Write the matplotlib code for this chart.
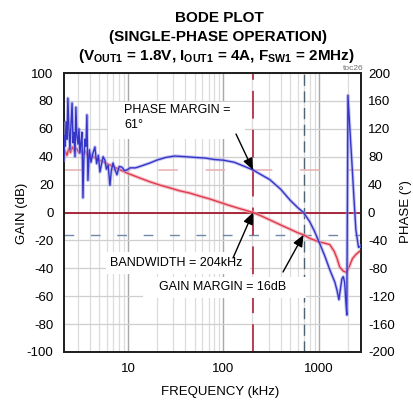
import matplotlib
matplotlib.use("Agg")
import matplotlib.pyplot as plt
from matplotlib.ticker import FixedLocator, NullFormatter, LogLocator
from matplotlib.patches import Rectangle
import numpy as np

# ---------------- data ----------------
gain_freq_khz = [2.14, 2.2, 2.3, 2.4, 2.5, 2.6, 2.75, 2.9, 3.05, 3.2, 3.4, 3.6, 3.8, 4.0,
                 4.3, 4.6, 5.0, 5.5, 6.0, 6.5, 7.0, 8.0, 9.0, 10, 13, 17, 22, 28, 35,
                 44, 55, 72, 90, 110, 140, 170, 204, 250, 300, 400, 500, 600, 690, 800,
                 1000, 1150, 1300, 1450, 1550, 1650, 1800, 1950, 2100, 2250, 2450, 2760]
gain_db = [40, 44, 41, 46, 43, 47, 44, 46, 43, 45, 42, 44, 40, 42,
           40, 39, 37.5, 36.5, 35, 34, 33, 31, 29.5, 28, 25, 22, 19.5, 17.5, 15.5,
           14, 12, 9.7, 7.5, 5.5, 3.3, 1.6, 0, -2.5, -5, -9, -12, -14.5, -16, -18.5,
           -21, -22, -23, -28, -33, -39, -42, -43, -38, -33, -30, -27]

phase_freq_khz = [2.14, 2.17, 2.2, 2.25, 2.3, 2.35, 2.41, 2.47, 2.53, 2.6, 2.66, 2.72, 2.79,
                  2.85, 2.92, 3.0, 3.07, 3.14, 3.22, 3.3, 3.38, 3.46, 3.55, 3.63, 3.72, 3.81,
                  3.95, 4.1, 4.3, 4.51, 4.7, 4.9, 5.09, 5.3, 5.5, 5.74, 5.95, 6.2, 6.48, 6.7,
                  6.97, 7.3, 7.67, 8.1, 8.65, 9.2, 9.77, 10.5, 12, 14, 17, 20, 25, 31, 40,
                  50, 65, 80, 100, 130, 160, 204, 250, 307, 400, 497, 600, 690, 800, 900,
                  1023, 1150, 1300, 1470, 1550, 1620, 1680, 1740, 1800, 1860, 1920, 1960,
                  2014, 2110, 2215, 2320, 2440, 2600, 2760]
phase_deg = [75, 110, 95, 130, 105, 164, 120, 90, 125, 157, 100, 115, 80,
             151, 110, 98, 120, 85, 100, 115, 21, 80, 105, 95, 140, 46,
             90, 72, 85, 94, 70, 82, 58, 70, 80, 75, 62, 68, 39, 60,
             71, 62, 54, 66, 65, 60, 61, 64, 64, 67, 71, 75, 79, 81, 80,
             79, 78, 76, 75, 72, 67, 61, 54, 47, 33, 18, 7, 0, -13, -27,
             -45, -62, -82, -100, -112, -125, -110, -95, -92, -100, -130, -147,
             168, 120, 72, 24, -25, -50, -48]

bandwidth_khz = 204
phase_margin_deg = 61
gain_margin_db = -16
gain_margin_freq_khz = 690

gain_ticks = list(range(-100, 101, 20))
phase_ticks = list(range(-200, 201, 40))
freq_ticks = [10, 100, 1000]
freq_tick_labels = ["10", "100", "1000"]

# ---------------- style ----------------
plt.rcParams['font.family'] = ['Liberation Sans', 'DejaVu Sans']
plt.rcParams['mathtext.fontset'] = 'custom'
plt.rcParams['mathtext.rm'] = 'Liberation Sans'
plt.rcParams['mathtext.bf'] = 'Liberation Sans:bold'
plt.rcParams['lines.scale_dashes'] = False

W, H = 413, 403
fig = plt.figure(figsize=(W / 100, H / 100), dpi=100)

L, R, T, B = 64, 361, 73, 352
ax = fig.add_axes([L / W, 1 - B / H, (R - L) / W, (B - T) / H])
ax.set_xscale('log')
ax.set_xlim(2.14, 2760)
ax.set_ylim(-100, 100)
ax.set_yticks(gain_ticks)
ax.set_yticklabels([str(v) for v in gain_ticks])
ax.xaxis.set_major_locator(FixedLocator(freq_ticks))
ax.set_xticklabels(freq_tick_labels)
ax.xaxis.set_minor_locator(LogLocator(base=10, subs=np.arange(2, 10), numticks=20))
ax.xaxis.set_minor_formatter(NullFormatter())
ax.tick_params(axis='both', which='both', length=0)
ax.tick_params(axis='y', pad=7.5, labelsize=9.5)
ax.tick_params(axis='x', pad=8, labelsize=9.5)

ax.grid(True, which='major', axis='x', color='#a8a8a8', lw=1.0)
ax.grid(True, which='minor', axis='x', color='#dcdcdc', lw=0.9)
ax.grid(True, which='major', axis='y', color='#cfcfcf', lw=0.9)
ax.set_axisbelow(True)
for s in ax.spines.values():
    s.set_color('#202020')
    s.set_linewidth(1.3)

# reference lines
ax.axhline(0, color='#a8283a', lw=1.4, zorder=2)
ax.axhline(phase_margin_deg / 2, color='#e6b0b0', lw=1.1, dashes=(14, 20), zorder=2)
ax.axhline(gain_margin_db, color='#6e8aa8', lw=1.0, dashes=(7, 12), zorder=2)
ax.axvline(bandwidth_khz, color='#b02038', lw=1.2, dashes=(20, 8), zorder=2)
ax.axvline(gain_margin_freq_khz, color='#4e6272', lw=1.0, dashes=(8, 4), zorder=2)

# gain curve (left axis)
ax.plot(gain_freq_khz, gain_db, color='#f2a8b0', lw=2.6, alpha=0.7, zorder=3)
ax.plot(gain_freq_khz, gain_db, color='#e03a50', lw=1.0, zorder=4)

# phase curve (right axis)
ax2 = ax.twinx()
ax2.set_ylim(-200, 200)
ax2.set_yticks(phase_ticks)
ax2.set_yticklabels([str(v) for v in phase_ticks])
ax2.tick_params(axis='y', length=0, pad=5, labelsize=9.5)
for s in ax2.spines.values():
    s.set_color('#202020')
    s.set_linewidth(1.3)
ax2.plot(phase_freq_khz, phase_deg, color='#a0a0ee', lw=2.4, alpha=0.6, zorder=3)
ax2.plot(phase_freq_khz, phase_deg, color='#3535c8', lw=1.0, zorder=4)

# ---------------- annotations ----------------
def fp(x, y):
    return (x / W, 1 - y / H)

def white_box(x0, y0, x1, y1):
    r = Rectangle(fp(x0, y1), (x1 - x0) / W, (y1 - y0) / H, transform=fig.transFigure,
                  fc='white', ec='none', zorder=6, clip_on=False)
    ax2.add_patch(r)

white_box(108, 102, 245, 139)
white_box(106, 252, 250, 274)
white_box(143, 277, 306, 298)

afont = dict(fontsize=9, color='black', transform=fig.transFigure, zorder=7)
ax2.text(*fp(124, 104), 'PHASE MARGIN =\n61°', ha='left', va='top', linespacing=1.3, **afont)
ax2.text(*fp(110, 263), 'BANDWIDTH = 204kHz', ha='left', va='center', **afont)
ax2.text(*fp(159, 287), 'GAIN MARGIN = 16dB', ha='left', va='center', **afont)

arrow = dict(arrowstyle='-|>,head_length=0.7,head_width=0.3', color='black', lw=1.0,
             shrinkA=0, shrinkB=0)
ax2.annotate('', xy=(bandwidth_khz, phase_margin_deg), xycoords='data',
             xytext=fp(236, 134), textcoords='figure fraction', arrowprops=arrow, zorder=11)
ax2.annotate('', xy=(bandwidth_khz, 0), xycoords='data',
             xytext=fp(233, 258), textcoords='figure fraction', arrowprops=arrow, zorder=11)
ax2.annotate('', xy=(gain_margin_freq_khz, 2 * gain_margin_db), xycoords='data',
             xytext=fp(283, 272), textcoords='figure fraction', arrowprops=arrow, zorder=11)

# ---------------- titles and labels ----------------
tfont = dict(fontsize=11, fontweight='bold', ha='center', va='center')
fig.text(*fp(219, 18), 'BODE PLOT', **tfont)
fig.text(*fp(218, 37), '(SINGLE-PHASE OPERATION)', **tfont)
fig.text(*fp(216, 56),
         r'(V$_{\mathbf{OUT1}}$ = 1.8V, I$_{\mathbf{OUT1}}$ = 4A, F$_{\mathbf{SW1}}$ = 2MHz)',
         **tfont)
fig.text(*fp(353, 68.5), 'toc26', fontsize=6, color='#707070', ha='center', va='center')

fig.text(*fp(22, 213), 'GAIN (dB)', rotation=90, ha='center', va='center', fontsize=9.5)
fig.text(*fp(406, 212), 'PHASE (°)', rotation=90, ha='center', va='center', fontsize=9.5)
fig.text(*fp(220, 392), 'FREQUENCY (kHz)', ha='center', va='center', fontsize=9.5)

fig.savefig('out.png', dpi=100)
